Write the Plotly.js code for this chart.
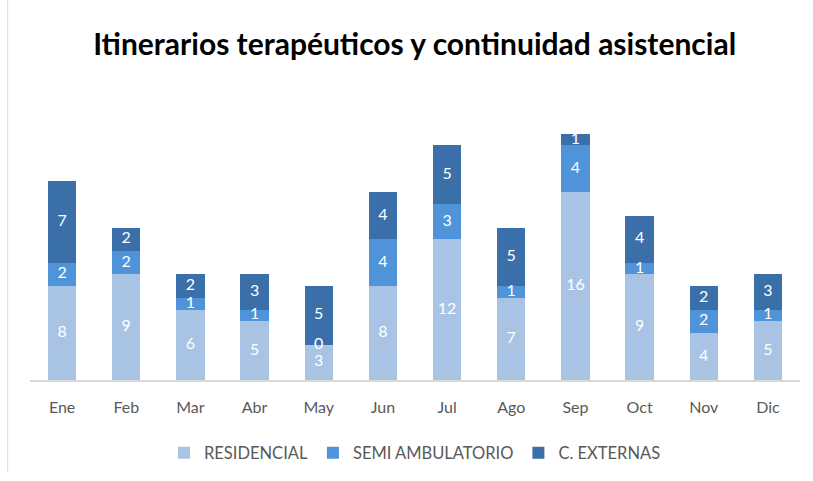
<!DOCTYPE html>
<html><head><meta charset="utf-8">
<script src="https://cdn.plot.ly/plotly-3.0.1.min.js"></script>
<style>body{margin:0;background:#fff}#c{width:813px;height:481px}</style>
</head><body><div id="c"></div>
<script>
const months = ["Ene","Feb","Mar","Abr","May","Jun","Jul","Ago","Sep","Oct","Nov","Dic"];
const residencial = [8,9,6,5,3,8,12,7,16,9,4,5];
const semiAmbulatorio = [2,2,1,1,0,4,3,1,4,1,2,1];
const cExternas = [7,2,2,3,5,4,5,5,1,4,2,3];
const seriesNames = ["RESIDENCIAL","SEMI AMBULATORIO","C. EXTERNAS"];
const colors = ["#a9c3e5","#4f94d8","#3b6fa9"];
const vals = [residencial, semiAmbulatorio, cExternas];
const font = "Lato, 'Open Sans', sans-serif";
const traces = vals.map((v,i)=>({
  type:"bar", name:seriesNames[i], x:months, y:v,
  marker:{color:colors[i], line:{width:0}},
  textposition:"none", hoverinfo:"none"
}));
// data labels at the middle of each stacked segment
let base = months.map(()=>0);
vals.forEach((v)=>{
  const mids = v.map((d,j)=>base[j]+d/2);
  traces.push({type:"scatter", mode:"text", x:months, y:mids, text:v.map(String),
    textposition:"middle center", showlegend:false, hoverinfo:"none", cliponaxis:false,
    textfont:{family:font, size:16, color:"#ffffff"}});
  base = base.map((b,j)=>b+v[j]);
});
Plotly.newPlot("c", traces, {
  width:813, height:481, barmode:"stack", bargap:0.56,
  paper_bgcolor:"#ffffff", plot_bgcolor:"#ffffff",
  margin:{l:30, r:13, t:75, b:100},
  title:{text:"<b>Itinerarios terapéuticos y continuidad asistencial</b>", x:0.51, xanchor:"center", y:0.907, yanchor:"middle",
    font:{family:font, size:30, color:"#000000"}},
  xaxis:{type:"category", range:[-0.5,11.5], showline:true, linecolor:"#d9d9d9", linewidth:1.5, ticks:"", showgrid:false,
    tickfont:{family:font, size:16, color:"#595959"}, ticklabelstandoff:12},
  yaxis:{range:[0,26], visible:false, showgrid:false, zeroline:false},
  showlegend:true,
  legend:{orientation:"h", x:0.5, xanchor:"center", y:-0.235, yanchor:"middle",
    font:{family:font, size:16.5, color:"#595959"}, itemwidth:30, traceorder:"normal"},
  shapes:[{type:"line", xref:"paper", yref:"paper", x0:-0.029, x1:-0.029, y0:-0.3, y1:1.6, line:{color:"#d9d9d9", width:1}}]
}, {staticPlot:true});
</script></body></html>
